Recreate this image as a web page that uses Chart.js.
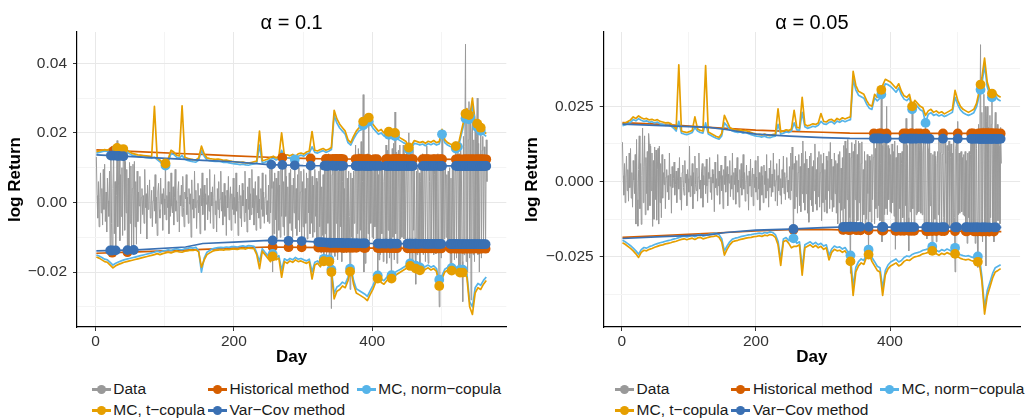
<!DOCTYPE html>
<html>
<head>
<meta charset="utf-8">
<title>VaR backtest</title>
<script src="https://cdn.jsdelivr.net/npm/chart.js@4.4.1/dist/chart.umd.min.js"></script>
<style>
  html, body { margin: 0; padding: 0; background: #ffffff; }
  #wrap { position: relative; width: 1025px; height: 419px; overflow: hidden;
          font-family: "Liberation Sans", Arial, Helvetica, sans-serif; }
  canvas { position: absolute; top: 0; }
  .legend { position: absolute; top: 378.5px; display: grid;
            grid-template-columns: 116.3px 148.7px auto; font-size: 15.5px; color: #1a1a1a; }
  .item { display: flex; align-items: center; height: 21px; white-space: nowrap; }
  .key { position: relative; width: 19px; height: 21px; margin-right: 2.6px; flex: none; }
  .key .ln { position: absolute; left: 0; right: 0; top: 9px; height: 3px; }
  .key .pt { position: absolute; left: 5px; top: 6px; width: 9px; height: 9px; border-radius: 50%; }
</style>
</head>
<body>
<div id="wrap">
  <canvas id="panelLeft" width="512" height="371" style="left:0px"></canvas>
  <canvas id="panelRight" width="513" height="371" style="left:512px"></canvas>
  <div class="legend" id="legendLeft" style="left:91.7px"></div>
  <div class="legend" id="legendRight" style="left:615px"></div>
</div>
<script>
// ---- series names and colours -------------------------------------------
const seriesNames  = ['Data', 'Historical method', 'MC, norm\u2212copula', 'MC, t\u2212copula', 'Var\u2212Cov method'];
const seriesColors = ['#999999', '#D55E00', '#56B4E9', '#E69F00', '#3A70B3'];

// ---- daily log returns (day 1 .. 566) -----------------------------------
const dailyReturn = [
 .0131,.0020,-.0045,.0060,-.0070,.0015,.0085,-.0030,.0040,-.0065,
 .0095,-.0020,.0110,-.0055,.0030,-.0085,.0070,.0005,-.0040,.0090,
 -.0141,.0140,-.0060,-.0148,.0040,.0152,-.0090,.0060,-.0142,.0020,
 .0178,-.0070,.0050,.0152,-.0110,.0080,-.0040,.0100,-.0095,.0160,
 .0125,-.0080,.0118,-.0030,.0095,-.0149,.0070,-.0125,.0115,-.0060,
 .0105,-.0128,.0040,.0110,-.0141,.0118,-.0070,.0060,-.0120,.0090,
 -.0055,.0030,-.0010,.0075,-.0090,.0015,.0040,-.0035,.0020,-.0060,
 .0095,-.0015,.0025,-.0105,.0050,-.0020,.0010,.0065,-.0045,-.0010,
 .0035,-.0070,.0005,.0045,-.0025,.0080,-.0060,.0015,-.0095,.0030,
 .0055,-.0020,-.0045,.0070,-.0005,.0025,-.0080,.0040,.0010,-.0035,
 .0118,-.0050,.0020,-.0015,.0060,-.0090,.0030,-.0040,.0085,-.0010,
 -.0030,.0045,-.0065,.0015,.0095,-.0025,.0005,-.0055,.0035,.0060,
 -.0085,.0020,-.0010,.0050,-.0040,.0075,-.0015,-.0070,.0030,.0010,
 .0080,-.0035,.0015,-.0060,.0040,-.0005,.0025,-.0100,.0065,-.0020,
 .0010,-.0045,.0090,-.0015,.0035,-.0075,.0005,.0055,-.0030,.0020,
 -.0090,.0040,-.0010,.0085,-.0035,.0015,.0050,-.0080,.0025,-.0005,
 .0070,-.0050,.0020,-.0025,.0095,-.0060,.0030,-.0010,.0045,-.0075,
 .0015,.0080,-.0035,.0005,-.0085,.0040,-.0020,.0060,-.0045,.0010,
 .0090,-.0025,.0030,-.0065,-.0010,.0055,-.0040,.0020,-.0095,.0035,
 -.0015,.0075,-.0050,.0010,.0045,-.0080,.0025,-.0020,.0070,-.0035,
 .0015,-.0060,.0085,-.0025,.0030,-.0095,.0005,.0050,-.0045,.0020,
 -.0070,.0055,-.0010,.0035,-.0055,.0090,-.0030,.0010,-.0085,.0045,
 -.0020,.0070,-.0050,.0025,-.0035,.0095,-.0015,.0040,-.0065,.0005,
 .0060,-.0080,.0020,-.0030,.0075,-.0045,.0010,-.0075,.0040,-.0020,
 .0085,-.0040,.0030,-.0060,.0015,.0080,-.0035,.0005,-.0055,.0050,
 -.0060,.0095,-.0030,.0115,.0040,-.0200,.0060,-.0090,.0085,-.0050,
 .0070,-.0105,.0030,.0090,-.0080,.0050,-.0100,.0095,-.0040,.0135,
 -.0070,.0060,-.0095,.0100,-.0040,.0075,-.0105,.0045,-.0135,.0085,
 -.0060,.0095,-.0080,.0050,-.0100,.0070,-.0030,.0125,-.0075,.0040,
 -.0095,.0080,-.0050,.0100,-.0085,.0030,.0090,-.0130,.0060,-.0070,
 .0095,-.0100,.0040,-.0060,.0085,-.0105,.0070,-.0030,.0100,-.0090,
 .0130,-.0060,.0075,-.0100,.0050,-.0085,.0095,-.0040,.0070,-.0105,
 .0060,-.0140,.0090,-.0070,.0100,-.0145,.0045,-.0095,.0080,-.0175,
 .0120,-.0090,.0135,-.0158,.0110,-.0060,.0140,-.0175,.0095,-.0120,
 -.0305,.0080,.0130,-.0140,.0100,-.0155,.0125,-.0060,.0138,-.0165,
 .0090,-.0130,.0135,-.0070,.0128,-.0170,.0060,.0132,-.0145,.0040,
 -.0110,.0100,-.0145,.0070,-.0125,.0090,-.0040,-.0250,.0085,-.0100,
 .0070,-.0135,.0090,-.0060,.0080,.0165,-.0140,.0110,-.0090,.0155,
 -.0120,.0140,-.0080,.0175,-.0130,.0060,.0310,-.0200,.0120,-.0175,
 .0130,-.0110,.0140,-.0090,.0250,-.0110,.0120,-.0060,.0110,-.0100,
 .0090,-.0105,.0125,-.0070,.0100,-.0115,.0135,-.0225,.0080,-.0165,
 .0120,-.0150,.0095,-.0090,.0095,-.0170,.0060,.0100,-.0120,.0165,
 -.0175,.0150,-.0080,.0210,-.0160,.0120,-.0120,-.0230,.0155,-.0100,
 .0170,-.0165,.0260,-.0090,.0145,-.0175,.0130,.0150,-.0110,.0165,
 -.0105,.0130,-.0100,.0095,.0165,-.0105,.0140,-.0110,.0095,.0150,
 -.0140,.0120,.0200,-.0170,-.0190,.0145,.0110,-.0165,.0150,-.0080,
 .0095,-.0140,-.0235,.0090,-.0150,.0100,-.0125,.0085,-.0200,.0060,
 .0100,-.0110,.0140,-.0150,.0095,.0135,-.0170,.0090,.0162,-.0120,
 -.0175,.0130,.0060,-.0140,.0120,-.0145,.0100,.0135,-.0150,.0080,
 .0125,-.0148,.0095,-.0140,.0140,-.0120,-.0300,.0110,.0130,-.0160,
 .0200,-.0110,.0095,-.0105,.0090,.0100,-.0100,.0080,-.0110,.0090,
 -.0115,.0100,-.0175,.0070,-.0205,.0095,-.0120,.0100,-.0165,.0090,
 .0175,-.0160,.0130,.0165,-.0180,.0140,-.0205,.0150,.0110,-.0170,
 -.0285,.0190,-.0150,.0160,.0455,-.0170,.0230,-.0200,.0180,.0290,
 -.0160,.0250,-.0280,.0200,.0250,-.0150,.0180,-.0170,.0220,-.0120,
 .0190,.0300,-.0150,.0170,-.0200,.0140,.0230,-.0160,.0150,.0190,
 -.0130,.0160,.0120,-.0140,.0180,.0060
];

// ---- Historical / Var-Cov VaR levels at knot days ------------------------
const knotDays = [1, 60, 130, 155, 200, 250, 300, 340, 400, 566];

// alpha = 0.1
const leftHistUpper   = [.0151, .0146, .0140, .0138, .0134, .0130, .0127, .0125, .01245, .0124];
const leftHistLower   = [-.0146, -.0142, -.0137, -.0135, -.0131, -.0128, -.0129, -.0130, -.0131, -.0133];
const leftVarCovUpper = [.0137, .0131, .0124, .0121, .0117, .0109, .0106, .01055, .0105, .0105];
const leftVarCovLower = [-.0139, -.01365, -.0128, -.0118, -.0114, -.0109, -.0111, -.0116, -.0118, -.0120];

// alpha = 0.05
const rightHistUpper   = [.0196, .0190, .0180, .0177, .0171, .0167, .0164, .0161, .0160, .0160];
const rightHistLower   = [-.0185, -.0179, -.0172, -.0169, -.0164, -.0160, -.0159, -.0161, -.0163, -.0166];
const rightVarCovUpper = [.0191, .0186, .0180, .0173, .0158, .0151, .0146, .01435, .0143, .0142];
const rightVarCovLower = [-.0189, -.0183, -.0177, -.0169, -.0161, -.0158, -.0153, -.0150, -.0151, -.0152];

// ---- Monte Carlo VaR levels, every 4th day (day 1, 5, 9, ... 565) --------
const leftMcTUpper = [
 .0146,.0148,.0150,.0152,.0150,.0155,.0157,.0158,.0156,.0155,
 .0153,.0150,.0146,.0141,.0139,.0137,.0136,.0135,.0134,.0133,
 .0132,.0276,.0128,.0122,.0114,.0112,.0125,.0150,.0145,.0136,
 .0134,.0278,.0130,.0127,.0125,.0123,.0122,.0128,.0162,.0140,
 .0128,.0126,.0125,.0124,.0125,.0123,.0121,.0122,.0120,.0118,
 .0117,.0116,.0115,.0116,.0114,.0113,.0115,.0117,.0119,.0205,
 .0120,.0122,.0125,.0130,.0133,.0128,.0132,.0200,.0135,.0137,
 .0134,.0138,.0132,.0140,.0142,.0139,.0145,.0148,.0204,.0150,
 .0148,.0152,.0155,.0150,.0153,.0158,.0265,.0240,.0225,.0215,
 .0205,.0180,.0172,.0190,.0205,.0215,.0220,.0245,.0248,.0240,
 .0225,.0215,.0205,.0210,.0200,.0198,.0205,.0195,.0200,.0190,
 .0185,.0180,.0175,.0158,.0165,.0178,.0175,.0172,.0175,.0170,
 .0176,.0173,.0178,.0172,.0175,.0210,.0180,.0172,.0168,.0165,
 .0162,.0170,.0205,.0240,.0270,.0245,.0300,.0230,.0225,.0215,
 .0205,.0198
];
const leftMcNormUpper = [
 .0142,.0144,.0146,.0148,.0147,.0152,.0155,.0156,.0154,.0153,
 .0147,.0144,.0140,.0136,.0134,.0132,.0131,.0130,.0129,.0128,
 .0127,.0130,.0123,.0117,.0109,.0106,.0118,.0140,.0138,.0130,
 .0128,.0135,.0124,.0121,.0119,.0117,.0116,.0121,.0150,.0133,
 .0122,.0120,.0119,.0118,.0119,.0117,.0115,.0116,.0114,.0112,
 .0111,.0110,.0109,.0110,.0108,.0107,.0109,.0111,.0113,.0165,
 .0114,.0116,.0119,.0124,.0127,.0122,.0126,.0150,.0129,.0128,
 .0128,.0128,.0122,.0133,.0136,.0133,.0139,.0142,.0160,.0144,
 .0142,.0146,.0149,.0144,.0147,.0152,.0250,.0228,.0214,.0205,
 .0196,.0172,.0165,.0182,.0196,.0206,.0210,.0233,.0236,.0229,
 .0214,.0205,.0196,.0200,.0191,.0189,.0196,.0186,.0191,.0182,
 .0177,.0172,.0168,.0152,.0158,.0170,.0168,.0165,.0168,.0163,
 .0169,.0166,.0170,.0165,.0168,.0196,.0172,.0165,.0161,.0158,
 .0155,.0162,.0195,.0228,.0255,.0234,.0280,.0220,.0215,.0206,
 .0196,.0190
];
const leftMcTLower = [
 -.0157,-.0160,-.0165,-.0170,-.0172,-.0180,-.0188,-.0182,-.0178,-.0175,
 -.0172,-.0170,-.0168,-.0166,-.0164,-.0162,-.0160,-.0158,-.0156,-.0154,
 -.0152,-.0150,-.0147,-.0150,-.0147,-.0145,-.0143,-.0145,-.0142,-.0140,
 -.0142,-.0143,-.0140,-.0139,-.0137,-.0138,-.0136,-.0142,-.0186,-.0165,
 -.0150,-.0145,-.0140,-.0138,-.0137,-.0136,-.0137,-.0135,-.0136,-.0134,
 -.0134,-.0135,-.0133,-.0132,-.0134,-.0131,-.0132,-.0133,-.0150,-.0190,
 -.0140,-.0150,-.0160,-.0170,-.0150,-.0165,-.0160,-.0215,-.0170,-.0175,
 -.0168,-.0172,-.0165,-.0170,-.0168,-.0172,-.0175,-.0170,-.0220,-.0180,
 -.0175,-.0185,-.0168,-.0172,-.0160,-.0200,-.0277,-.0255,-.0250,-.0240,
 -.0245,-.0225,-.0190,-.0235,-.0260,-.0265,-.0270,-.0275,-.0282,-.0265,
 -.0250,-.0230,-.0215,-.0230,-.0235,-.0225,-.0215,-.0220,-.0210,-.0205,
 -.0200,-.0195,-.0190,-.0180,-.0185,-.0192,-.0188,-.0195,-.0200,-.0192,
 -.0188,-.0194,-.0190,-.0198,-.0240,-.0220,-.0200,-.0195,-.0192,-.0200,
 -.0195,-.0205,-.0198,-.0205,-.0215,-.0300,-.0322,-.0260,-.0245,-.0250,
 -.0235,-.0224
];
const leftMcNormLower = [
 -.0151,-.0154,-.0158,-.0163,-.0165,-.0172,-.0180,-.0175,-.0171,-.0168,
 -.0165,-.0163,-.0161,-.0159,-.0157,-.0155,-.0153,-.0151,-.0149,-.0147,
 -.0145,-.0143,-.0140,-.0143,-.0140,-.0138,-.0136,-.0138,-.0135,-.0133,
 -.0135,-.0136,-.0133,-.0132,-.0130,-.0131,-.0129,-.0140,-.0200,-.0160,
 -.0143,-.0138,-.0133,-.0131,-.0130,-.0129,-.0130,-.0128,-.0129,-.0127,
 -.0127,-.0128,-.0126,-.0125,-.0127,-.0124,-.0125,-.0126,-.0145,-.0170,
 -.0133,-.0143,-.0152,-.0162,-.0143,-.0158,-.0153,-.0195,-.0162,-.0167,
 -.0161,-.0165,-.0158,-.0163,-.0161,-.0165,-.0168,-.0163,-.0200,-.0172,
 -.0168,-.0177,-.0161,-.0165,-.0154,-.0193,-.0262,-.0243,-.0238,-.0229,
 -.0234,-.0215,-.0182,-.0224,-.0248,-.0253,-.0258,-.0263,-.0270,-.0254,
 -.0239,-.0220,-.0206,-.0220,-.0225,-.0215,-.0206,-.0210,-.0201,-.0196,
 -.0192,-.0187,-.0182,-.0173,-.0177,-.0184,-.0180,-.0187,-.0192,-.0184,
 -.0180,-.0186,-.0182,-.0190,-.0222,-.0210,-.0192,-.0187,-.0184,-.0192,
 -.0187,-.0197,-.0190,-.0197,-.0206,-.0285,-.0300,-.0245,-.0233,-.0238,
 -.0224,-.0214
];
const rightMcTUpper = [
 .0193,.0195,.0200,.0205,.0215,.0210,.0218,.0212,.0208,.0210,
 .0205,.0207,.0203,.0206,.0200,.0198,.0195,.0196,.0193,.0185,
 .0175,.0388,.0168,.0165,.0163,.0166,.0170,.0215,.0175,.0170,
 .0168,.0385,.0165,.0160,.0155,.0150,.0147,.0160,.0220,.0200,
 .0180,.0175,.0172,.0170,.0172,.0168,.0170,.0166,.0163,.0160,
 .0158,.0157,.0155,.0158,.0154,.0153,.0156,.0158,.0242,.0165,
 .0168,.0172,.0170,.0175,.0237,.0180,.0178,.0280,.0190,.0185,
 .0188,.0192,.0190,.0195,.0226,.0200,.0198,.0205,.0207,.0200,
 .0210,.0205,.0212,.0208,.0212,.0215,.0366,.0320,.0300,.0295,
 .0290,.0270,.0255,.0250,.0290,.0280,.0290,.0320,.0340,.0335,
 .0330,.0320,.0310,.0325,.0300,.0285,.0280,.0290,.0250,.0270,
 .0260,.0250,.0245,.0220,.0235,.0240,.0230,.0235,.0228,.0232,
 .0225,.0230,.0235,.0240,.0303,.0270,.0250,.0240,.0235,.0230,
 .0235,.0240,.0260,.0300,.0345,.0410,.0330,.0300,.0290,.0295,
 .0285,.0280
];
const rightMcNormUpper = [
 .0186,.0188,.0192,.0197,.0206,.0202,.0209,.0204,.0200,.0202,
 .0197,.0199,.0195,.0198,.0192,.0190,.0187,.0188,.0185,.0178,
 .0168,.0200,.0161,.0158,.0156,.0159,.0163,.0180,.0168,.0163,
 .0161,.0195,.0158,.0153,.0148,.0144,.0141,.0152,.0195,.0185,
 .0172,.0168,.0165,.0163,.0165,.0161,.0163,.0159,.0156,.0153,
 .0151,.0150,.0148,.0151,.0147,.0146,.0149,.0151,.0190,.0158,
 .0161,.0165,.0163,.0168,.0195,.0172,.0170,.0230,.0182,.0177,
 .0180,.0184,.0182,.0187,.0200,.0192,.0190,.0197,.0199,.0192,
 .0201,.0197,.0203,.0199,.0203,.0206,.0340,.0305,.0287,.0282,
 .0277,.0258,.0244,.0240,.0278,.0268,.0277,.0302,.0325,.0322,
 .0316,.0307,.0297,.0311,.0288,.0274,.0269,.0278,.0240,.0258,
 .0249,.0239,.0234,.0195,.0224,.0229,.0220,.0224,.0218,.0222,
 .0216,.0220,.0225,.0230,.0280,.0256,.0238,.0229,.0224,.0220,
 .0224,.0229,.0248,.0285,.0325,.0385,.0315,.0287,.0278,.0283,
 .0273,.0268
];
const rightMcTLower = [
 -.0203,-.0208,-.0215,-.0222,-.0230,-.0240,-.0252,-.0235,-.0228,-.0230,
 -.0225,-.0222,-.0218,-.0215,-.0212,-.0210,-.0207,-.0205,-.0203,-.0200,
 -.0198,-.0195,-.0192,-.0190,-.0193,-.0190,-.0188,-.0192,-.0187,-.0185,
 -.0190,-.0188,-.0185,-.0183,-.0182,-.0180,-.0185,-.0200,-.0244,-.0225,
 -.0210,-.0200,-.0197,-.0195,-.0192,-.0190,-.0188,-.0186,-.0185,-.0183,
 -.0182,-.0180,-.0182,-.0178,-.0180,-.0176,-.0178,-.0185,-.0210,-.0278,
 -.0200,-.0195,-.0205,-.0220,-.0215,-.0215,-.0210,-.0311,-.0220,-.0215,
 -.0210,-.0218,-.0212,-.0220,-.0215,-.0225,-.0220,-.0260,-.0235,-.0225,
 -.0230,-.0228,-.0235,-.0230,-.0245,-.0265,-.0378,-.0300,-.0280,-.0270,
 -.0275,-.0250,-.0240,-.0265,-.0280,-.0295,-.0300,-.0378,-.0310,-.0290,
 -.0280,-.0275,-.0270,-.0280,-.0275,-.0265,-.0260,-.0262,-.0255,-.0250,
 -.0248,-.0245,-.0240,-.0238,-.0235,-.0228,-.0232,-.0240,-.0245,-.0238,
 -.0242,-.0236,-.0240,-.0245,-.0240,-.0250,-.0255,-.0258,-.0260,-.0258,
 -.0262,-.0265,-.0265,-.0268,-.0330,-.0440,-.0380,-.0350,-.0320,-.0300,
 -.0295,-.0289
];
const rightMcNormLower = [
 -.0195,-.0200,-.0206,-.0213,-.0221,-.0230,-.0241,-.0226,-.0219,-.0221,
 -.0216,-.0213,-.0209,-.0206,-.0203,-.0201,-.0198,-.0196,-.0194,-.0191,
 -.0189,-.0186,-.0183,-.0181,-.0184,-.0181,-.0179,-.0183,-.0178,-.0176,
 -.0181,-.0179,-.0176,-.0174,-.0173,-.0171,-.0176,-.0190,-.0230,-.0214,
 -.0200,-.0191,-.0188,-.0186,-.0183,-.0181,-.0179,-.0177,-.0176,-.0174,
 -.0173,-.0171,-.0173,-.0169,-.0171,-.0167,-.0169,-.0176,-.0198,-.0260,
 -.0191,-.0186,-.0196,-.0190,-.0188,-.0205,-.0200,-.0290,-.0210,-.0205,
 -.0200,-.0208,-.0202,-.0210,-.0205,-.0214,-.0210,-.0245,-.0224,-.0214,
 -.0219,-.0217,-.0224,-.0219,-.0233,-.0245,-.0350,-.0285,-.0266,-.0257,
 -.0262,-.0238,-.0222,-.0252,-.0266,-.0281,-.0286,-.0355,-.0296,-.0277,
 -.0267,-.0262,-.0257,-.0267,-.0262,-.0252,-.0247,-.0249,-.0242,-.0238,
 -.0236,-.0233,-.0228,-.0226,-.0223,-.0212,-.0220,-.0228,-.0233,-.0226,
 -.0230,-.0224,-.0228,-.0233,-.0220,-.0238,-.0243,-.0246,-.0248,-.0246,
 -.0250,-.0253,-.0253,-.0244,-.0315,-.0420,-.0362,-.0334,-.0305,-.0286,
 -.0281,-.0276
];

// ---- axis ticks ------------------------------------------------------------
const dayTickLabels = [0, 200, 400];
const dayGridStep = 100;

// ---- derived day indices ----------------------------------------------------
const days = dailyReturn.map((_, i) => i + 1);
const mcStep = 4;
const mcDays = leftMcTUpper.map((_, i) => 1 + i * mcStep);

const FONT = '"Liberation Sans", Arial, Helvetica, sans-serif';

// linear interpolation of a VaR level on a given day
function levelAt(xs, ys, d) {
  if (d <= xs[0]) return ys[0];
  for (let i = 1; i < xs.length; i++) {
    if (d <= xs[i]) {
      const t = (d - xs[i - 1]) / (xs[i] - xs[i - 1]);
      return ys[i - 1] + t * (ys[i] - ys[i - 1]);
    }
  }
  return ys[ys.length - 1];
}

const panels = [
  {
    canvas: 'panelLeft', legend: 'legendLeft', title: '\u03b1 = 0.1',
    yMin: -0.0358, yMax: 0.0490, yStep: 0.01, yMajor: 0.02, yDigits: 2,
    yLabels: [-0.02, 0, 0.02, 0.04],
    axisWidth: 77, padRight: 5.7, yTitlePad: 4.8,
    methods: [
      { days: knotDays, upper: leftHistUpper, lower: leftHistLower },
      { days: mcDays,   upper: leftMcNormUpper, lower: leftMcNormLower },
      { days: mcDays,   upper: leftMcTUpper, lower: leftMcTLower },
      { days: knotDays, upper: leftVarCovUpper, lower: leftVarCovLower }
    ]
  },
  {
    canvas: 'panelRight', legend: 'legendRight', title: '\u03b1 = 0.05',
    yMin: -0.0483, yMax: 0.0497, yStep: 0.0125, yMajor: 0.025, yDigits: 3,
    yLabels: [-0.025, 0, 0.025],
    axisWidth: 91.7, padRight: 0.6, yTitlePad: 9.8,
    methods: [
      { days: knotDays, upper: rightHistUpper, lower: rightHistLower },
      { days: mcDays,   upper: rightMcNormUpper, lower: rightMcNormLower },
      { days: mcDays,   upper: rightMcTUpper, lower: rightMcTLower },
      { days: knotDays, upper: rightVarCovUpper, lower: rightVarCovLower }
    ]
  }
];

// panel heading centred over the plotting area
const panelTitle = {
  id: 'panelTitle',
  afterDraw(chart, args, opts) {
    const { ctx, chartArea } = chart;
    ctx.save();
    ctx.font = '20px ' + FONT;
    ctx.fillStyle = '#000';
    ctx.textAlign = 'center';
    ctx.textBaseline = 'alphabetic';
    ctx.fillText(opts.text, (chartArea.left + chartArea.right) / 2, 28.5);
    ctx.restore();
  }
};

function fmtNum(v, digits) {
  const s = Math.abs(v).toFixed(digits);
  return v < -1e-12 ? '\u2212' + s : s;
}
const near = (a, b) => Math.abs(a - b) < 1e-9;

function buildDatasets(p) {
  const ds = [];
  ds.push({
    data: days.map((d, i) => ({ x: d, y: dailyReturn[i] })),
    borderColor: seriesColors[0], borderWidth: 1.0, pointRadius: 0,
    borderJoinStyle: 'round', tension: 0, order: 20
  });
  p.methods.forEach((m, k) => {
    const color = seriesColors[k + 1];
    const lineOf = vals => m.days.map((d, i) => ({ x: d, y: vals[i] }));
    ds.push({ data: lineOf(m.upper), borderColor: color, borderWidth: 1.7, pointRadius: 0,
              borderJoinStyle: 'round', tension: 0, order: 19 - k });
    ds.push({ data: lineOf(m.lower), borderColor: color, borderWidth: 1.7, pointRadius: 0,
              borderJoinStyle: 'round', tension: 0, order: 19 - k });
    // days on which the return falls outside the VaR band
    const hits = [];
    days.forEach((d, i) => {
      const up = levelAt(m.days, m.upper, d);
      const lo = levelAt(m.days, m.lower, d);
      if (dailyReturn[i] > up) hits.push({ x: d, y: up });
      else if (dailyReturn[i] < lo) hits.push({ x: d, y: lo });
    });
    ds.push({ data: hits, showLine: false, pointRadius: 4.9, pointHoverRadius: 4.9,
              pointBackgroundColor: color, pointBorderWidth: 0, borderColor: color,
              order: 9 - k });
  });
  return ds;
}

function gridOpts(isMajor) {
  return {
    color: c => isMajor(c.tick ? c.tick.value : 0) ? '#e8e8e8' : '#f4f4f4',
    lineWidth: 1,
    tickLength: 4,
    tickColor: c => isMajor(c.tick ? c.tick.value : 0) ? '#333333' : 'rgba(0,0,0,0)',
    drawTicks: true
  };
}

panels.forEach(p => {
  const yMajor = v => p.yLabels.some(t => near(t, v)) || near(Math.round(v / p.yMajor) * p.yMajor, v);
  const xMajor = v => dayTickLabels.includes(Math.round(v)) && near(Math.round(v), v);

  new Chart(document.getElementById(p.canvas), {
    type: 'line',
    data: { datasets: buildDatasets(p) },
    options: {
      responsive: false, animation: false, events: [],
      layout: { padding: { top: 32, right: p.padRight, bottom: 3, left: 0 } },
      plugins: { legend: { display: false }, tooltip: { enabled: false }, panelTitle: { text: p.title } },
      scales: {
        x: {
          type: 'linear', min: -27, max: 594,
          afterFit: s => { s.height = 41; },
          ticks: {
            stepSize: dayGridStep, includeBounds: false, autoSkip: false, maxRotation: 0,
            padding: 1, color: '#333333', font: { family: FONT, size: 15.5 },
            callback: v => xMajor(v) ? String(Math.round(v)) : ''
          },
          grid: gridOpts(xMajor),
          border: { display: true, color: '#000000', width: 1.2 },
          title: { display: true, text: 'Day', color: '#000000',
                   font: { family: FONT, size: 17, weight: 'bold' }, padding: { top: 0, bottom: 0 } }
        },
        y: {
          type: 'linear', min: p.yMin, max: p.yMax,
          afterFit: s => { s.width = p.axisWidth; },
          ticks: {
            stepSize: p.yStep, includeBounds: false, autoSkip: false,
            padding: 6, color: '#333333', font: { family: FONT, size: 15.5 },
            callback: v => yMajor(v) ? fmtNum(v, p.yDigits) : ''
          },
          grid: gridOpts(yMajor),
          border: { display: true, color: '#000000', width: 1.2 },
          title: { display: true, text: 'log Return', color: '#000000',
                   font: { family: FONT, size: 17, weight: 'bold' }, padding: { top: p.yTitlePad, bottom: 0 } }
        }
      }
    },
    plugins: [panelTitle]
  });

  // legend: line-and-point key for every series
  const box = document.getElementById(p.legend);
  seriesNames.forEach((name, i) => {
    const item = document.createElement('div');
    item.className = 'item';
    const key = document.createElement('span');
    key.className = 'key';
    const ln = document.createElement('span');
    ln.className = 'ln'; ln.style.background = seriesColors[i];
    const pt = document.createElement('span');
    pt.className = 'pt'; pt.style.background = seriesColors[i];
    key.appendChild(ln); key.appendChild(pt);
    const label = document.createElement('span');
    label.textContent = name;
    item.appendChild(key); item.appendChild(label);
    box.appendChild(item);
  });
});
</script>
</body>
</html>
